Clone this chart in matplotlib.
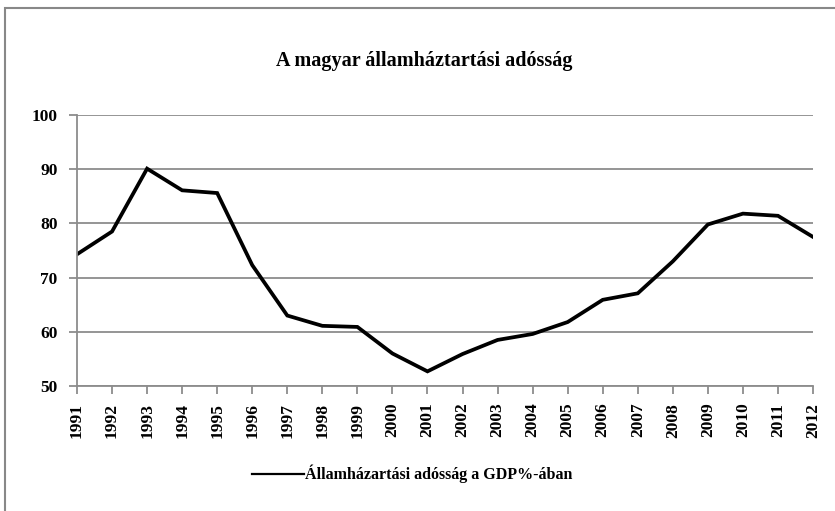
import matplotlib
matplotlib.use("Agg")
import matplotlib.pyplot as plt
from matplotlib.patches import Rectangle

years = [str(y) for y in range(1991, 2013)]
debt = [74.3, 78.5, 90.1, 86.1, 85.6, 72.3, 63.0, 61.1, 60.9, 56.0, 52.7,
        55.9, 58.5, 59.6, 61.8, 65.9, 67.1, 73.0, 79.8, 81.8, 81.4, 77.5]
yticks = [50, 60, 70, 80, 90, 100]
title = "A magyar államháztartási adósság"
series_name = "Államházartási adósság a GDP%-ában"

plt.rcParams['font.family'] = ['Liberation Serif', 'DejaVu Serif']

fig = plt.figure(figsize=(8.35, 5.11), dpi=100)
ax = fig.add_axes([0.0922, 0.2446, 0.8815, 0.5304])

x = list(range(len(years)))
line, = ax.plot(x, debt, color='black', linewidth=2.7, solid_joinstyle='miter')

ax.set_xlim(0, len(years) - 1)
ax.set_ylim(50, 100)
ax.set_yticks(yticks)
ax.set_yticklabels([str(v) for v in yticks], fontsize=12.5, fontweight='bold')
ax.set_xticks(x)
ax.set_xticklabels(years, rotation=90, fontsize=12.5, fontweight='bold')
ax.grid(axis='y', color='#8c8c8c', linewidth=1.3)
ax.set_axisbelow(True)
for s in ['top', 'right']:
    ax.spines[s].set_visible(False)
for s in ['left', 'bottom']:
    ax.spines[s].set_color('#8c8c8c')
    ax.spines[s].set_linewidth(1.3)
ax.tick_params(axis='both', color='#8c8c8c', width=1.3, length=6, direction='out')
ax.tick_params(axis='y', pad=8)
ax.tick_params(axis='x', pad=6)

fig.text(0.508, 0.881, title, ha='center', va='center', fontsize=14.5, fontweight='bold')

fig.legend([line], [series_name], loc='center', bbox_to_anchor=(0.494, 0.072),
           frameon=False, prop={'weight': 'bold', 'size': 11.5},
           handlelength=3.2, handletextpad=0.1)
leg = fig.legends[0]
leg.get_lines()[0].set_linewidth(1.6)

fig.patches.append(Rectangle((5 / 835, -0.05), 1.1, 1 - 8 / 511 + 0.05,
                             transform=fig.transFigure, fill=False,
                             edgecolor='#888888', linewidth=1.5))

fig.savefig("out.png", dpi=100, facecolor='white')
